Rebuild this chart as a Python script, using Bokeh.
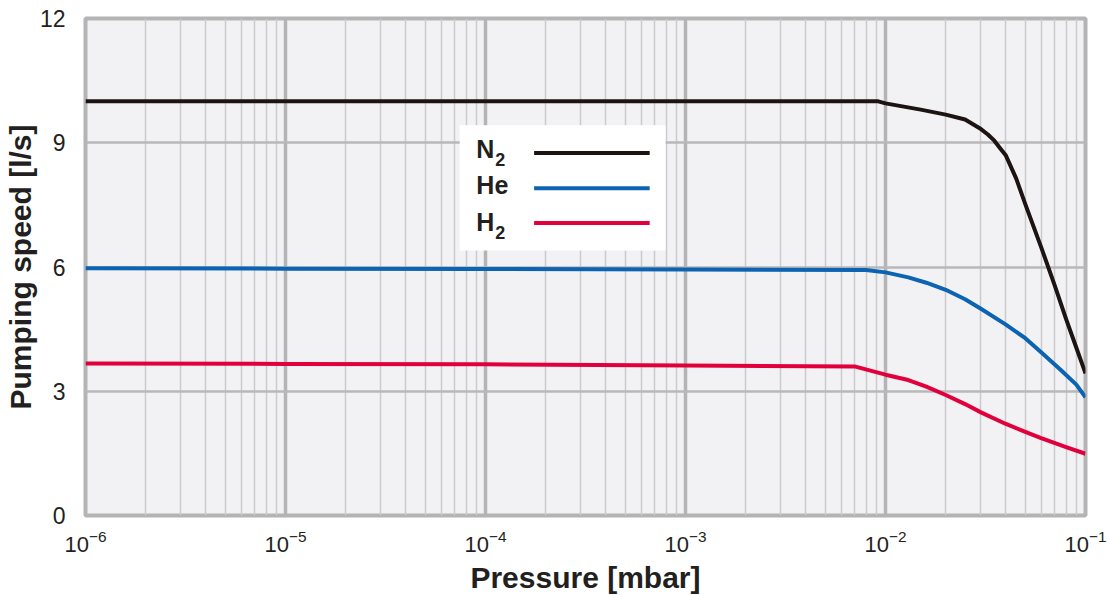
from bokeh.plotting import figure
from bokeh.models import Range1d, FixedTicker, Label, LogTickFormatter
from bokeh.embed import file_html
from bokeh.resources import INLINE

# ---- data ----
pressure_n2 = [1e-6, 1e-5, 1e-4, 1e-3, 9.2e-3, 1e-2, 1.5e-2, 2e-2, 2.5e-2, 3e-2, 3.25e-2, 3.5e-2, 3.75e-2,
               4e-2, 4.5e-2, 5e-2, 6e-2, 7e-2, 8e-2, 9e-2, 1e-1]
speed_n2 = [10.0, 10.0, 10.0, 10.0, 10.0, 9.95, 9.8, 9.68, 9.56, 9.33, 9.20, 9.05, 8.86,
            8.69, 8.14, 7.52, 6.48, 5.57, 4.74, 4.05, 3.43]

pressure_he = [1e-6, 1e-5, 1e-4, 1e-3, 8e-3, 1e-2, 1.3e-2, 1.6e-2, 2e-2, 2.5e-2, 3e-2, 4e-2, 5e-2, 6e-2, 7.5e-2, 9e-2, 1e-1]
speed_he = [5.97, 5.96, 5.95, 5.94, 5.93, 5.87, 5.75, 5.62, 5.45, 5.22, 4.99, 4.61, 4.28, 3.94, 3.52, 3.16, 2.85]

pressure_h2 = [1e-6, 1e-5, 1e-4, 1e-3, 7e-3, 1e-2, 1.3e-2, 1.6e-2, 2e-2, 2.5e-2, 3e-2, 4e-2, 5e-2, 6e-2, 8e-2, 1e-1]
speed_h2 = [3.67, 3.66, 3.65, 3.62, 3.60, 3.40, 3.27, 3.11, 2.91, 2.69, 2.49, 2.21, 2.02, 1.87, 1.65, 1.49]

series_names = ["N", "He", "H"]
series_subs = ["2", "", "2"]
series_colors = ["#1c1412", "#0b63b1", "#e2003c"]

x_major = [1e-6, 1e-5, 1e-4, 1e-3, 1e-2, 1e-1]
x_minor = [k * d for d in x_major[:-1] for k in range(2, 10)]
y_ticks = [0, 3, 6, 9, 12]

FONT = "Liberation Sans"
TXT = "#231f20"

p = figure(
    x_axis_type="log",
    x_range=Range1d(1e-6, 1e-1),
    y_range=Range1d(0, 12),
    frame_width=1000, frame_height=497,
    min_border_left=85, min_border_right=22, min_border_top=18, min_border_bottom=77,
    output_backend="svg", toolbar_location=None,
    background_fill_color="#f2f2f4",
    border_fill_color="white",
)

p.outline_line_color = "#b4b4b4"
p.outline_line_width = 4

xt = FixedTicker(ticks=x_major, minor_ticks=x_minor)
p.xaxis.ticker = xt
p.xgrid.ticker = xt
p.xaxis.formatter = LogTickFormatter()
p.yaxis.ticker = FixedTicker(ticks=y_ticks)

p.xgrid.grid_line_color = "#b4b4b4"
p.xgrid.grid_line_width = 3.5
p.xgrid.minor_grid_line_color = "#cbcbcd"
p.xgrid.minor_grid_line_width = 1.5
p.ygrid.grid_line_color = "#b8b8ba"
p.ygrid.grid_line_width = 2.5

for ax in (p.xaxis, p.yaxis):
    ax.axis_line_color = None
    ax.major_tick_line_color = None
    ax.minor_tick_line_color = None
    ax.major_label_text_font = FONT
    ax.major_label_text_color = TXT
    ax.axis_label_text_font = FONT
    ax.axis_label_text_font_style = "bold"
    ax.axis_label_text_color = TXT
    ax.axis_label_text_font_size = "30px"

p.yaxis.major_label_text_font_size = "23px"
p.yaxis.major_label_standoff = 14
p.yaxis.axis_label = "Pumping speed [l/s]"
p.yaxis.axis_label_standoff = 0

p.xaxis.major_label_text_font_size = "22px"
p.xaxis.major_label_standoff = 8
p.xaxis.axis_label = "Pressure [mbar]"
p.xaxis.axis_label_standoff = 6

# curves
p.line(pressure_n2, speed_n2, line_color=series_colors[0], line_width=4, line_join="round")
p.line(pressure_he, speed_he, line_color=series_colors[1], line_width=4, line_join="round")
p.line(pressure_h2, speed_h2, line_color=series_colors[2], line_width=4, line_join="round")

# legend (label left, line right) drawn in data space
leg_left, leg_right, leg_top, leg_bottom = 7.43e-5, 7.95e-4, 9.42, 6.40
p.quad(left=[leg_left], right=[leg_right], top=[leg_top], bottom=[leg_bottom],
       fill_color="white", line_color=None)
row_line_y = [8.75, 7.90, 7.06]
row_text_y = [8.84, 7.98, 7.08]
lab_x = 9.0e-5
line_x0, line_x1 = 1.75e-4, 6.62e-4
for name, sub, col, ly, ty in zip(series_names, series_subs, series_colors, row_line_y, row_text_y):
    p.segment(x0=[line_x0], x1=[line_x1], y0=[ly], y1=[ly], line_color=col, line_width=4)
    p.add_layout(Label(x=lab_x, y=ty, text=name, text_font=FONT, text_font_style="bold",
                       text_font_size="25px", text_color=TXT, text_baseline="middle", text_align="left"))
    if sub:
        p.add_layout(Label(x=lab_x, y=ty, x_offset=19, y_offset=-10, text=sub, text_font=FONT,
                           text_font_style="bold", text_font_size="18px", text_color=TXT,
                           text_baseline="middle", text_align="left"))

open("out.html", "w").write(file_html(p, INLINE))
